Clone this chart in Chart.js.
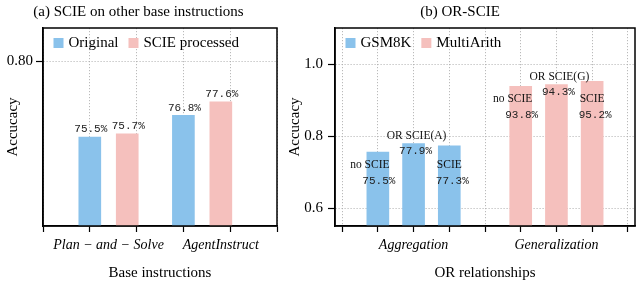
<!DOCTYPE html>
<html>
<head>
<meta charset="utf-8">
<script src="https://cdn.jsdelivr.net/npm/chart.js@4.4.0/dist/chart.umd.min.js"></script>
<style>
  html, body { margin: 0; padding: 0; background: #fff; }
  #wrap { position: relative; width: 637px; height: 284px; }
  #chartA { position: absolute; left: 0; top: 0; }
  #chartB { position: absolute; left: 285px; top: 0; }
</style>
</head>
<body>
<div id="wrap">
  <canvas id="chartA" width="285" height="284"></canvas>
  <canvas id="chartB" width="352" height="284"></canvas>
</div>
<script>
// (a) SCIE on other base instructions
const baseNames = ['Plan − and − Solve', 'AgentInstruct'];
const basePos = [1.4, 3.8];
const originalX = [1, 3];
const originalAcc = [0.755, 0.768];
const scieX = [1.8, 3.8];
const scieAcc = [0.757, 0.776];
const xTicksA = [0, 1, 2, 3, 4, 5];
const yTicksA = [0.80];

// (b) OR-SCIE
const relNames = ['Aggregation', 'Generalization'];
const relPos = [2, 6];
const gsmX = [1, 2, 3];
const gsmAcc = [0.755, 0.779, 0.773];
const multiX = [5, 6, 7];
const multiAcc = [0.938, 0.943, 0.952];
const gsmNotes = ['no SCIE', 'OR SCIE(A)', 'SCIE'];
const multiNotes = ['no SCIE', 'OR SCIE(G)', 'SCIE'];
const xTicksB = [0, 1, 2, 3, 4, 5, 6, 7, 8];
const yTicksB = [0.6, 0.8, 1.0];

const BLUE = '#8ac2eb';
const PINK = '#f5c0bd';
const SERIF = '"Liberation Serif", "Times New Roman", serif';
const MONO = '"Liberation Mono", "Courier New", monospace';

const pts = (xs, ys) => xs.map((x, i) => ({ x: x, y: ys[i] }));
const pct = v => (v * 100).toFixed(1) + '%';

// cadre noir + légende dans la zone du graphe + libellés des catégories
const framePlugin = {
    id: 'frame',
    afterDraw(chart, args, opts) {
        const { ctx, chartArea: a } = chart;
        ctx.save();
        ctx.strokeStyle = '#000';
        ctx.lineWidth = 1.5;
        ctx.strokeRect(a.left, a.top, a.right - a.left, a.bottom - a.top);

        // légende
        ctx.font = '15px ' + SERIF;
        ctx.textBaseline = 'middle';
        ctx.textAlign = 'left';
        let x = a.left + 10.5;
        const y = a.top + 15;
        chart.data.datasets.forEach(ds => {
            ctx.fillStyle = ds.backgroundColor;
            ctx.fillRect(x, y - 5, 10, 10);
            ctx.fillStyle = '#000';
            ctx.fillText(ds.label, x + 15, y + 0.5);
            x += 15 + ctx.measureText(ds.label).width + 10;
        });

        // libellés en italique sous l'axe x
        const xs = chart.scales.x;
        ctx.font = 'italic 14px ' + SERIF;
        ctx.textAlign = 'center';
        opts.names.forEach((n, i) => {
            ctx.fillText(n, xs.getPixelForValue(opts.pos[i]), a.bottom + 19);
        });
        ctx.restore();
    }
};

const valuesAbove = {
    id: 'valuesAbove',
    afterDatasetsDraw(chart) {
        const ctx = chart.ctx;
        ctx.save();
        ctx.font = '11px ' + MONO;
        ctx.fillStyle = '#222';
        ctx.textAlign = 'center';
        ctx.textBaseline = 'middle';
        chart.data.datasets.forEach((ds, di) => {
            chart.getDatasetMeta(di).data.forEach((bar, i) => {
                ctx.fillText(pct(ds.data[i].y), bar.x + 1, bar.y - 7.5);
            });
        });
        ctx.restore();
    }
};

const notesInside = {
    id: 'notesInside',
    afterDatasetsDraw(chart, args, opts) {
        const ctx = chart.ctx;
        ctx.save();
        ctx.textAlign = 'center';
        ctx.textBaseline = 'middle';
        chart.data.datasets.forEach((ds, di) => {
            const bars = chart.getDatasetMeta(di).data;
            const rowY = bars[0].y;
            const names = opts.notes[di];
            bars.forEach((bar, i) => {
                let nx, ny, vx, vy;
                if (i === 1) {
                    nx = bar.x + 3; ny = bar.y - 8;
                    vx = bar.x + 2; vy = bar.y + 7.5;
                } else {
                    nx = bar.x + (i === 0 ? -8 : 0); ny = rowY + 12.5;
                    vx = bar.x + (i === 0 ? 1 : 3); vy = rowY + 28.5;
                }
                ctx.font = '11.5px ' + SERIF;
                ctx.fillStyle = '#111';
                ctx.fillText(names[i], nx, ny);
                ctx.font = '11px ' + MONO;
                ctx.fillStyle = '#222';
                ctx.fillText(pct(ds.data[i].y), vx, vy);
            });
        });
        ctx.restore();
    }
};

function axes(cfg) {
    const gridBase = {
        color: '#a8a8a8',
        lineWidth: 0.8,
        tickColor: '#000',
        tickWidth: 1.2,
        tickLength: 7
    };
    const borderBase = { display: true, color: '#000', width: 1.5, dash: [1.2, 1.8] };
    return {
        x: {
            type: 'linear',
            min: cfg.xMin, max: cfg.xMax,
            offset: false,
            grid: Object.assign({}, gridBase, { offset: false, tickLength: 6 }),
            border: borderBase,
            ticks: { display: false },
            afterBuildTicks: s => { s.ticks = cfg.xTicks.map(v => ({ value: v })); },
            afterFit: s => { s.height = 58; },
            title: {
                display: true, text: cfg.xTitle, color: '#000',
                font: { family: SERIF, size: 15 }, padding: { top: 0, bottom: 2 }
            }
        },
        y: {
            type: 'linear',
            min: cfg.yMin, max: cfg.yMax,
            grid: gridBase,
            border: borderBase,
            afterBuildTicks: s => { s.ticks = cfg.yTicks.map(v => ({ value: v })); },
            afterFit: s => { s.width = cfg.yWidth; },
            ticks: {
                color: '#000', padding: cfg.tickPad,
                font: { family: SERIF, size: 15 },
                callback: v => v.toFixed(cfg.digits)
            },
            title: {
                display: true, text: 'Accucacy', color: '#000',
                font: { family: SERIF, size: 15 }, padding: { top: cfg.titlePad, bottom: 0 }
            }
        }
    };
}

function titleOpts(text) {
    return {
        display: true, text: text, color: '#000',
        font: { family: SERIF, size: 15, weight: 'normal' },
        padding: { top: 3, bottom: 7 }
    };
}

new Chart(document.getElementById('chartA'), {
    type: 'bar',
    data: {
        datasets: [
            { label: 'Original', data: pts(originalX, originalAcc), backgroundColor: BLUE },
            { label: 'SCIE processed', data: pts(scieX, scieAcc), backgroundColor: PINK }
        ]
    },
    options: {
        responsive: false,
        animation: false,
        grouped: false,
        barThickness: 22,
        layout: { padding: { left: 0, right: 8, top: 0, bottom: 0 } },
        plugins: {
            legend: { display: false },
            tooltip: { enabled: false },
            title: titleOpts('(a) SCIE on other base instructions'),
            frame: { names: baseNames, pos: basePos }
        },
        scales: axes({
            xMin: 0, xMax: 5, xTicks: xTicksA, xTitle: 'Base instructions',
            yMin: 0.702, yMax: 0.82, yTicks: yTicksA, yWidth: 43, tickPad: 3,
            digits: 2, titlePad: 4
        })
    },
    plugins: [framePlugin, valuesAbove]
});

new Chart(document.getElementById('chartB'), {
    type: 'bar',
    data: {
        datasets: [
            { label: 'GSM8K', data: pts(gsmX, gsmAcc), backgroundColor: BLUE },
            { label: 'MultiArith', data: pts(multiX, multiAcc), backgroundColor: PINK }
        ]
    },
    options: {
        responsive: false,
        animation: false,
        grouped: false,
        barThickness: 22,
        layout: { padding: { left: 0, right: 2, top: 0, bottom: 0 } },
        plugins: {
            legend: { display: false },
            tooltip: { enabled: false },
            title: titleOpts('(b) OR-SCIE'),
            frame: { names: relNames, pos: relPos },
            notesInside: { notes: [gsmNotes, multiNotes] }
        },
        scales: axes({
            xMin: -0.2, xMax: 8.2, xTicks: xTicksB, xTitle: 'OR relationships',
            yMin: 0.55, yMax: 1.1, yTicks: yTicksB, yWidth: 50, tickPad: 5,
            digits: 1, titlePad: 1
        })
    },
    plugins: [framePlugin, notesInside]
});
</script>
</body>
</html>
